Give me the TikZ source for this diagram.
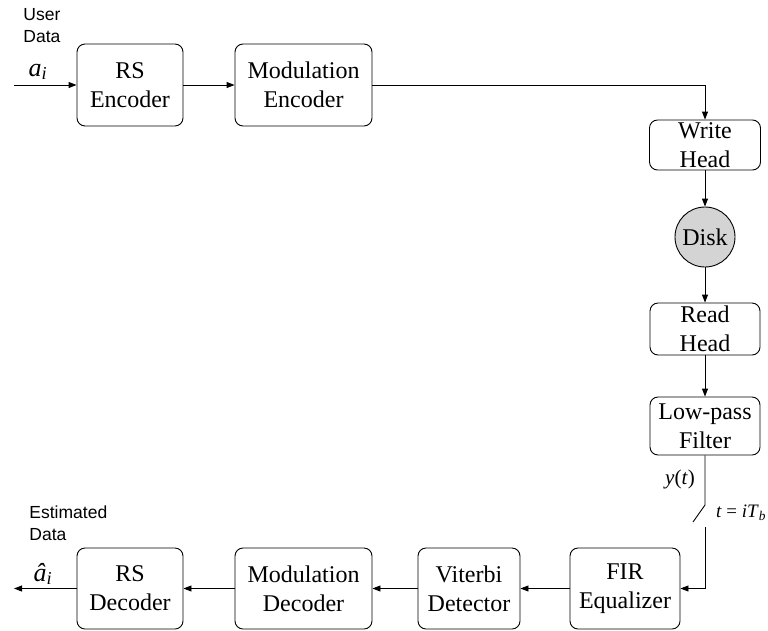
\documentclass[tikz,border=0pt]{standalone}
\usepackage{fontspec}
\setmainfont{Liberation Serif}
\setsansfont{Liberation Sans}
\usepackage{tikz}
\usetikzlibrary{arrows.meta}

\begin{document}
\begin{tikzpicture}[x=1pt,y=-1pt,line width=0.9pt,>={Triangle[length=8pt,width=6pt]},
    block/.style={draw,rounded corners=8pt,align=center,inner sep=0pt,font=\fontsize{24}{29}\selectfont},
    lbl/.style={anchor=north west,align=left,inner sep=0pt,font=\sffamily\fontsize{17.5}{22}\selectfont},
    sym/.style={inner sep=0pt,font=\fontsize{26}{26}\selectfont\itshape}]
    \useasboundingbox (0,0) rectangle (768,630);
	\node[block,minimum width=106pt,minimum height=82pt] (rsenc) at (130,85) {RS\\Encoder};
	\node[block,minimum width=137pt,minimum height=82pt] (modenc) at (303.5,85) {Modulation\\Encoder};
	\node[block,minimum width=111pt,minimum height=50pt] (write) at (705,145) {Write\\Head};
	\node[draw,circle,fill=black!17,minimum size=60pt,inner sep=0pt,font=\fontsize{24}{29}\selectfont] (disk) at (705,237) {Disk};
	\node[block,minimum width=110pt,minimum height=52pt] (read) at (705,329) {Read\\Head};
	\node[block,minimum width=110pt,minimum height=58pt] (lpf) at (705,426) {Low-pass\\Filter};
	\node[block,minimum width=110pt,minimum height=81pt] (fir) at (625,588.5) {FIR\\Equalizer};
	\node[block,minimum width=102pt,minimum height=81pt] (vit) at (469,588.5) {Viterbi\\Detector};
	\node[block,minimum width=137pt,minimum height=81pt] (moddec) at (303.5,588.5) {Modulation\\Decoder};
	\node[block,minimum width=106pt,minimum height=81pt] (rsdec) at (130,588.5) {RS\\Decoder};
	\node[lbl] (user) at (23,8) {User\\Data};
	\node[lbl] (est) at (29,505) {Estimated\\Data};
	\node[sym] (ai) at (38,72) {a\textsubscript{i}};
	\node[sym] (ahat) at (43,574) {\^a\textsubscript{i}};
	\node[inner sep=0pt,font=\fontsize{21}{21}\selectfont] (yt) at (680,479) {\textit{y}(\textit{t})};
	\node[inner sep=0pt,font=\fontsize{19}{19}\selectfont] (samp) at (741,513) {\textit{t} = \textit{iT}\textsubscript{\textit{b}}};
	\coordinate (ain) at (14,85);
	\coordinate (aout) at (14,588.5);
	\coordinate (swa) at (705,505);
	\coordinate (swb) at (693,522);
	\coordinate (swc) at (705,527);
	\draw[->] (ain) -- (rsenc);
	\draw[->] (rsenc) -- (modenc);
	\draw[->] (modenc) -| (write);
	\foreach \a/\b in {write/disk, disk/read, read/lpf, fir/vit, vit/moddec, moddec/rsdec} {
		\draw[->] (\a) -- (\b);
	}
	\draw[->] (rsdec) -- (aout);
	\draw (lpf) -- (swa) -- (swb);
	\draw[->] (swc) |- (fir);
\end{tikzpicture}
\end{document}
